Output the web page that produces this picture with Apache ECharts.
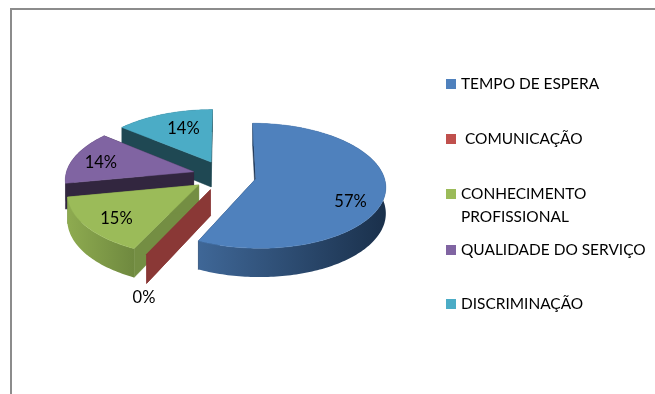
<!DOCTYPE html>
<html>
<head>
<meta charset="utf-8">
<style>html,body{margin:0;padding:0;background:#fff}#c{width:655px;height:394px}</style>
<script src="https://cdn.jsdelivr.net/npm/echarts@6/dist/echarts.min.js"></script>
</head>
<body>
<div id="c"></div>
<script>
const categories = ['TEMPO DE ESPERA', ' COMUNICAÇÃO', 'CONHECIMENTO PROFISSIONAL', 'QUALIDADE DO SERVIÇO', 'DISCRIMINAÇÃO'];
const values = [57, 0, 15, 14, 14];

const topColors = ['#4F81BD', '#C0504D', '#9BBB59', '#8064A2', '#4BACC6'];
const cutColors = ['#1C3350', '#8A3836', '#748E43', '#32263F', '#1F4853'];
const wallFrom = ['#3F6797', '#8A3836', '#8EAB50', '#32263F', '#1F4853'];
const wallTo = ['#1A304B', '#8A3836', '#6F893F', '#32263F', '#1F4853'];
const drawOrder = [5, 4, 3, 2, 1];
const legendCenters = [84, 139, 194, 250, 304];
const labelReach = [[0.715, 1.6], [0.96, 1.56], [0.74, 0.82], [0.77, 0.6], [0.57, 0.67]];

const view = { cx: 224.4, cy: 175.5, a: 128, b: 61, k: 0.11, explode: 0.25, depth: 25.5 };
const total = values.reduce((s, v) => s + v, 0);
const starts = [];
values.reduce((s, v, i) => { starts[i] = s; return s + v; }, 0);

function project(X, Y, drop) {
  const w = 1 + view.k * Y;
  return [view.cx + view.a * X / w, view.cy - view.b * Y / w + drop / w];
}
function renderSlice(params, api) {
  const i = params.seriesIndex;
  const value = api.value(0);
  const t1 = starts[i] / total * 2 * Math.PI;
  const t2 = (starts[i] + value) / total * 2 * Math.PI;
  const m = (t1 + t2) / 2;
  const ox = view.explode * Math.sin(m), oy = view.explode * Math.cos(m);
  const at = (t, r, drop) => project(ox + r * Math.sin(t), oy + r * Math.cos(t), drop);
  const arc = (drop) => {
    const pts = [];
    const n = Math.max(1, Math.ceil((t2 - t1) / 0.02));
    for (let j = 0; j <= n; j++) pts.push(at(t1 + (t2 - t1) * j / n, 1, drop));
    return pts;
  };
  const d = view.depth;
  const children = [];
  const poly = (points, fill) => children.push({ type: 'polygon', shape: { points }, style: { fill, stroke: fill, lineWidth: 0.5 } });
  poly([at(t1, 0, 0), at(t1, 1, 0), at(t1, 1, d), at(t1, 0, d)], cutColors[i]);
  poly([at(t2, 0, 0), at(t2, 1, 0), at(t2, 1, d), at(t2, 0, d)], cutColors[i]);
  if (value > 0) {
    const wall = arc(0).concat(arc(d).reverse());
    const xs = wall.map(p => p[0]);
    children.push({
      type: 'polygon', shape: { points: wall },
      style: {
        fill: {
          type: 'linear', x: Math.min(...xs), y: 0, x2: Math.max(...xs), y2: 0, global: true,
          colorStops: [{ offset: 0, color: wallFrom[i] }, { offset: 1, color: wallTo[i] }]
        }
      }
    });
    poly([at(t1, 0, 0)].concat(arc(0)), topColors[i]);
  }
  const lp = project(ox + labelReach[i][0] * Math.sin(m), oy + labelReach[i][1] * Math.cos(m), 0);
  children.push({
    type: 'text',
    style: { text: value + '%', x: lp[0], y: lp[1], align: 'center', verticalAlign: 'middle', font: '16.5px Lato', fill: '#000' }
  });
  return { type: 'group', children };
}

const chart = echarts.init(document.getElementById('c'), null, { renderer: 'canvas' });
chart.setOption({
  animation: false,
  backgroundColor: '#fff',
  graphic: [
    { type: 'polyline', shape: { points: [[11, 394], [11, 9], [655, 9]] }, style: { fill: null, stroke: '#8C8C8C', lineWidth: 2 }, z: 0 }
  ],
  legend: categories.map((name, i) => ({
    data: [name],
    orient: 'vertical',
    left: 446,
    top: legendCenters[i] - (i === 2 ? 34.5 : 11.5),
    padding: 0,
    icon: 'rect',
    itemWidth: 10,
    itemHeight: 10,
    selectedMode: false,
    formatter: n => n.indexOf(' PROF') > 0 ? '\n' + n.replace(' ', '\n') : n,
    textStyle: { fontFamily: 'Lato', fontSize: 15.45, color: '#000', lineHeight: 23 }
  })),
  series: categories.map((name, i) => ({
    type: 'custom',
    name,
    coordinateSystem: 'none',
    z: drawOrder[i],
    itemStyle: { color: topColors[i] },
    data: [[values[i]]],
    renderItem: renderSlice,
    silent: true
  }))
});
</script>
</body>
</html>
